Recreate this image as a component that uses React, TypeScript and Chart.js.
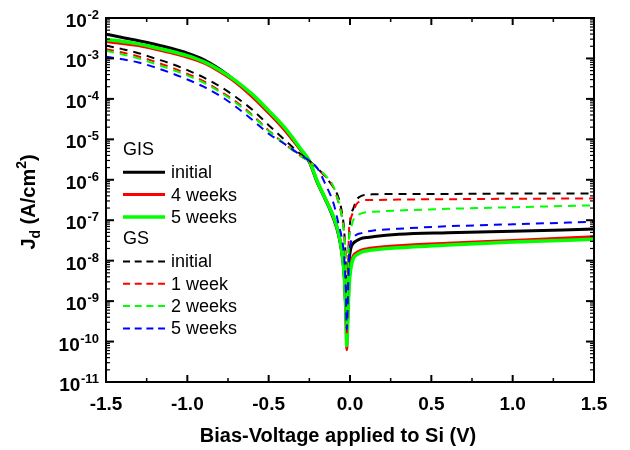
import React, { useEffect, useRef } from "react";
import { Chart, registerables } from "chart.js";

Chart.register(...registerables);

const FONT = '"Liberation Sans", Arial, Helvetica, sans-serif';

// Bias voltage applied to Si (V)
const voltage = [
  -1.5, -1.4, -1.3, -1.2, -1.1, -1.0, -0.9, -0.8, -0.7, -0.6, -0.5, -0.4, -0.3, -0.25, -0.2, -0.15,
  -0.1, -0.07, -0.05, -0.035, -0.025, -0.02, -0.015, -0.005, 0.005, 0.02, 0.04, 0.07, 0.1, 0.15, 0.3,
  0.6, 1.0, 1.5,
];

// GIS (solid lines), Jd in A/cm^2
const gisInitial = [
  3.98e-3, 3.31e-3, 2.75e-3, 2.24e-3, 1.78e-3, 1.35e-3, 9.33e-4, 5.37e-4, 2.69e-4, 1.2e-4, 4.68e-5,
  1.74e-5, 5.25e-6, 2.75e-6, 8.32e-7, 3.16e-7, 1.05e-7, 4.27e-8, 1.51e-8, 3.98e-9, 5.01e-10, 2.0e-10,
  1.0e-9, 1.0e-8, 2.0e-8, 2.69e-8, 3.09e-8, 3.55e-8, 3.72e-8, 3.98e-8, 4.47e-8, 4.9e-8, 5.37e-8, 6.03e-8,
];
const gis4Weeks = [
  2.63e-3, 2.34e-3, 2.09e-3, 1.7e-3, 1.38e-3, 1.07e-3, 7.76e-4, 4.68e-4, 2.51e-4, 1.12e-4, 4.47e-5,
  1.66e-5, 5.25e-6, 2.88e-6, 8.91e-7, 3.39e-7, 1.17e-7, 4.79e-8, 1.7e-8, 4.47e-9, 5.01e-10, 6.31e-11,
  2.51e-10, 3.16e-9, 7.94e-9, 1.32e-8, 1.58e-8, 1.82e-8, 1.95e-8, 2.09e-8, 2.34e-8, 2.69e-8, 3.16e-8, 3.89e-8,
];
const gis5Weeks = [
  2.95e-3, 2.63e-3, 2.29e-3, 1.86e-3, 1.51e-3, 1.17e-3, 8.32e-4, 5.13e-4, 2.75e-4, 1.29e-4, 5.13e-5,
  1.91e-5, 5.62e-6, 2.95e-6, 8.91e-7, 3.31e-7, 1.17e-7, 4.79e-8, 1.66e-8, 4.17e-9, 5.01e-10, 7.94e-11,
  2.51e-10, 2.51e-9, 6.31e-9, 1.12e-8, 1.38e-8, 1.62e-8, 1.74e-8, 1.86e-8, 2.09e-8, 2.45e-8, 2.88e-8, 3.39e-8,
];

// GS (dashed lines)
const gsInitial = [
  2.09e-3, 1.7e-3, 1.35e-3, 1.0e-3, 7.41e-4, 5.13e-4, 3.39e-4, 2.04e-4, 1.1e-4, 5.37e-5, 2.24e-5,
  9.55e-6, 4.17e-6, 2.95e-6, 1.91e-6, 1.17e-6, 6.31e-7, 3.55e-7, 1.58e-7, 5.01e-8, 6.31e-9, 5.01e-10,
  2.51e-9, 3.98e-8, 1.26e-7, 1.91e-7, 3.16e-7, 3.98e-7, 4.27e-7, 4.37e-7, 4.47e-7, 4.47e-7, 4.57e-7, 4.57e-7,
];
const gs1Week = [
  1.7e-3, 1.41e-3, 1.12e-3, 8.32e-4, 6.03e-4, 4.17e-4, 2.75e-4, 1.58e-4, 8.51e-5, 3.98e-5, 1.66e-5,
  7.59e-6, 3.8e-6, 2.82e-6, 1.91e-6, 1.2e-6, 6.31e-7, 2.63e-7, 1.2e-7, 3.89e-8, 5.75e-9, 1.58e-10,
  1.58e-9, 6.76e-8, 1.12e-7, 1.62e-7, 2.51e-7, 3.02e-7, 3.16e-7, 3.16e-7, 3.24e-7, 3.31e-7, 3.39e-7, 3.47e-7,
];
const gs2Weeks = [
  1.55e-3, 1.26e-3, 1.0e-3, 7.41e-4, 5.37e-4, 3.8e-4, 2.51e-4, 1.48e-4, 7.94e-5, 3.8e-5, 1.62e-5,
  7.59e-6, 3.8e-6, 2.82e-6, 1.91e-6, 1.26e-6, 6.61e-7, 2.82e-7, 1.26e-7, 3.98e-8, 6.31e-9, 2.0e-10,
  1.26e-9, 3.98e-8, 6.31e-8, 1.0e-7, 1.26e-7, 1.48e-7, 1.58e-7, 1.62e-7, 1.74e-7, 1.91e-7, 2.09e-7, 2.34e-7,
];
const gs5Weeks = [
  1.1e-3, 9.55e-4, 7.94e-4, 6.03e-4, 4.37e-4, 3.02e-4, 2.0e-4, 1.2e-4, 6.31e-5, 3.02e-5, 1.38e-5,
  7.59e-6, 3.98e-6, 2.95e-6, 1.91e-6, 7.59e-7, 2.51e-7, 7.94e-8, 3.55e-8, 1.12e-8, 1.58e-9, 2.0e-10,
  6.31e-10, 1.26e-8, 2.82e-8, 3.72e-8, 4.37e-8, 4.79e-8, 5.25e-8, 5.62e-8, 6.17e-8, 7.08e-8, 7.94e-8, 9.12e-8,
];

const groupHeaders = ["GIS", "GS"];
const yExponents = [-2, -3, -4, -5, -6, -7, -8, -9, -10, -11];
const xMinorStep = 0.25;
const xTitle = "Bias-Voltage applied to Si (V)";

function pts(ys: number[]) {
  return voltage.map((x, i) => ({ x, y: ys[i] }));
}

const DASH = [8, 6];

const datasets: any[] = [
  { label: "initial", group: 0, data: pts(gisInitial), borderColor: "#000000", borderWidth: 3, borderDash: [], order: 7 },
  { label: "4 weeks", group: 0, data: pts(gis4Weeks), borderColor: "#ff0000", borderWidth: 3, borderDash: [], order: 6 },
  { label: "5 weeks", group: 0, data: pts(gis5Weeks), borderColor: "#00ff00", borderWidth: 3.5, borderDash: [], order: 5 },
  { label: "initial", group: 1, data: pts(gsInitial), borderColor: "#000000", borderWidth: 2, borderDash: DASH, order: 4 },
  { label: "1 week", group: 1, data: pts(gs1Week), borderColor: "#ff0000", borderWidth: 2, borderDash: DASH, order: 3 },
  { label: "2 weeks", group: 1, data: pts(gs2Weeks), borderColor: "#00ff00", borderWidth: 2, borderDash: DASH, order: 2 },
  { label: "5 weeks", group: 1, data: pts(gs5Weeks), borderColor: "#0000ff", borderWidth: 2, borderDash: DASH, order: 1 },
];

const decor = {
  id: "decor",
  afterDatasetsDraw(chart: any) {
    const { ctx, chartArea } = chart;
    const { left, right, top, bottom } = chartArea;
    const xs = chart.scales.x;
    const ys = chart.scales.y;
    const line = (x1: number, y1: number, x2: number, y2: number) => {
      ctx.beginPath();
      ctx.moveTo(x1, y1);
      ctx.lineTo(x2, y2);
      ctx.stroke();
    };
    ctx.save();
    ctx.strokeStyle = "#000";
    ctx.fillStyle = "#000";

    // x ticks (inward, top and bottom)
    const n = Math.round((xs.max - xs.min) / xMinorStep);
    for (let i = 0; i <= n; i++) {
      const v = xs.min + i * xMinorStep;
      const px = xs.getPixelForValue(v);
      const major = i % 2 === 0;
      const len = major ? 7 : 4;
      ctx.lineWidth = major ? 2 : 1.5;
      line(px, bottom, px, bottom - len);
      line(px, top, px, top + len);
    }
    // y ticks (log, inward, left and right)
    for (const e of yExponents) {
      const py = ys.getPixelForValue(Math.pow(10, e));
      ctx.lineWidth = 2;
      line(left, py, left + 8, py);
      line(right, py, right - 8, py);
      if (e === -2) continue;
      ctx.lineWidth = 1.2;
      for (let k = 2; k <= 9; k++) {
        const pm = ys.getPixelForValue(k * Math.pow(10, e));
        line(left, pm, left + 4, pm);
        line(right, pm, right - 4, pm);
      }
    }

    // frame
    ctx.lineWidth = 2;
    ctx.strokeRect(left, top, right - left, bottom - top);

    // y tick labels with superscript exponents
    for (const e of yExponents) {
      const py = ys.getPixelForValue(Math.pow(10, e));
      const exp = String(e);
      ctx.font = `bold 13px ${FONT}`;
      const ew = ctx.measureText(exp).width;
      const xr = left - 7;
      ctx.textAlign = "left";
      ctx.textBaseline = "alphabetic";
      ctx.fillText(exp, xr - ew, py + 1);
      ctx.font = `bold 19px ${FONT}`;
      ctx.textAlign = "right";
      ctx.fillText("10", xr - ew - 0.5, py + 9);
    }

    // y title: J_d (A/cm^2)
    {
      const parts = [
        { t: "J", size: 20, dy: 0 },
        { t: "d", size: 14, dy: 5 },
        { t: " (A/cm", size: 20, dy: 0 },
        { t: "2", size: 14, dy: -9 },
        { t: ")", size: 20, dy: 0 },
      ];
      let total = 0;
      for (const p of parts) {
        ctx.font = `bold ${p.size}px ${FONT}`;
        total += ctx.measureText(p.t).width;
      }
      ctx.save();
      ctx.translate(35, (top + bottom) / 2 + 2);
      ctx.rotate(-Math.PI / 2);
      ctx.textAlign = "left";
      ctx.textBaseline = "alphabetic";
      let cx = -total / 2;
      for (const p of parts) {
        ctx.font = `bold ${p.size}px ${FONT}`;
        ctx.fillText(p.t, cx, p.dy);
        cx += ctx.measureText(p.t).width;
      }
      ctx.restore();
    }

    // x title
    ctx.font = `bold 20px ${FONT}`;
    ctx.textAlign = "center";
    ctx.textBaseline = "middle";
    ctx.fillText(xTitle, (left + right) / 2 - 12, bottom + 54);

    // legend
    const lx0 = left + 17;
    const lx1 = left + 59;
    const tx = left + 65;
    let ry = top + 132;
    const step = 22.3;
    ctx.font = `18px ${FONT}`;
    ctx.textAlign = "left";
    ctx.textBaseline = "middle";
    groupHeaders.forEach((h, g) => {
      ctx.fillStyle = "#000";
      ctx.fillText(h, lx0, ry);
      ry += step;
      chart.data.datasets.forEach((ds: any) => {
        if (ds.group !== g) return;
        ctx.save();
        ctx.strokeStyle = ds.borderColor;
        ctx.lineWidth = ds.borderWidth;
        ctx.setLineDash(ds.borderDash.length ? [7, 4.7] : []);
        line(lx0, ry, lx1, ry);
        ctx.restore();
        ctx.fillStyle = "#000";
        ctx.fillText(ds.label, tx, ry + 1);
        ry += step;
      });
    });
    ctx.restore();
  },
};

export default function App() {
  const ref = useRef<HTMLCanvasElement | null>(null);
  useEffect(() => {
    if (!ref.current) return;
    const chart = new Chart(ref.current, {
      type: "line",
      data: { datasets },
      options: {
        responsive: false,
        animation: false,
        maintainAspectRatio: false,
        layout: { padding: { left: 0, right: 36, top: 18, bottom: 0 } },
        elements: {
          point: { radius: 0 },
          line: { tension: 0, cubicInterpolationMode: "monotone", fill: false },
        },
        plugins: { legend: { display: false }, tooltip: { enabled: false } },
        scales: {
          x: {
            type: "linear",
            min: -1.5,
            max: 1.5,
            grid: { display: false, drawTicks: false },
            border: { display: false },
            ticks: {
              stepSize: 0.5,
              autoSkip: false,
              maxRotation: 0,
              padding: 11,
              color: "#000",
              font: { family: FONT, size: 19, weight: "bold" },
              callback: (v: any) => Number(v).toFixed(1),
            },
            afterFit: (s: any) => {
              s.height = 68;
            },
          },
          y: {
            type: "logarithmic",
            min: 1e-11,
            max: 1e-2,
            grid: { display: false, drawTicks: false },
            border: { display: false },
            ticks: { display: false },
            afterFit: (s: any) => {
              s.width = 106;
            },
          },
        },
      } as any,
      plugins: [decor],
    });
    return () => chart.destroy();
  }, []);
  return (
    <div style={{ position: "fixed", left: 0, top: 0, width: 630, height: 450, background: "#fff" }}>
      <canvas ref={ref} width={630} height={450} style={{ display: "block" }} />
    </div>
  );
}
